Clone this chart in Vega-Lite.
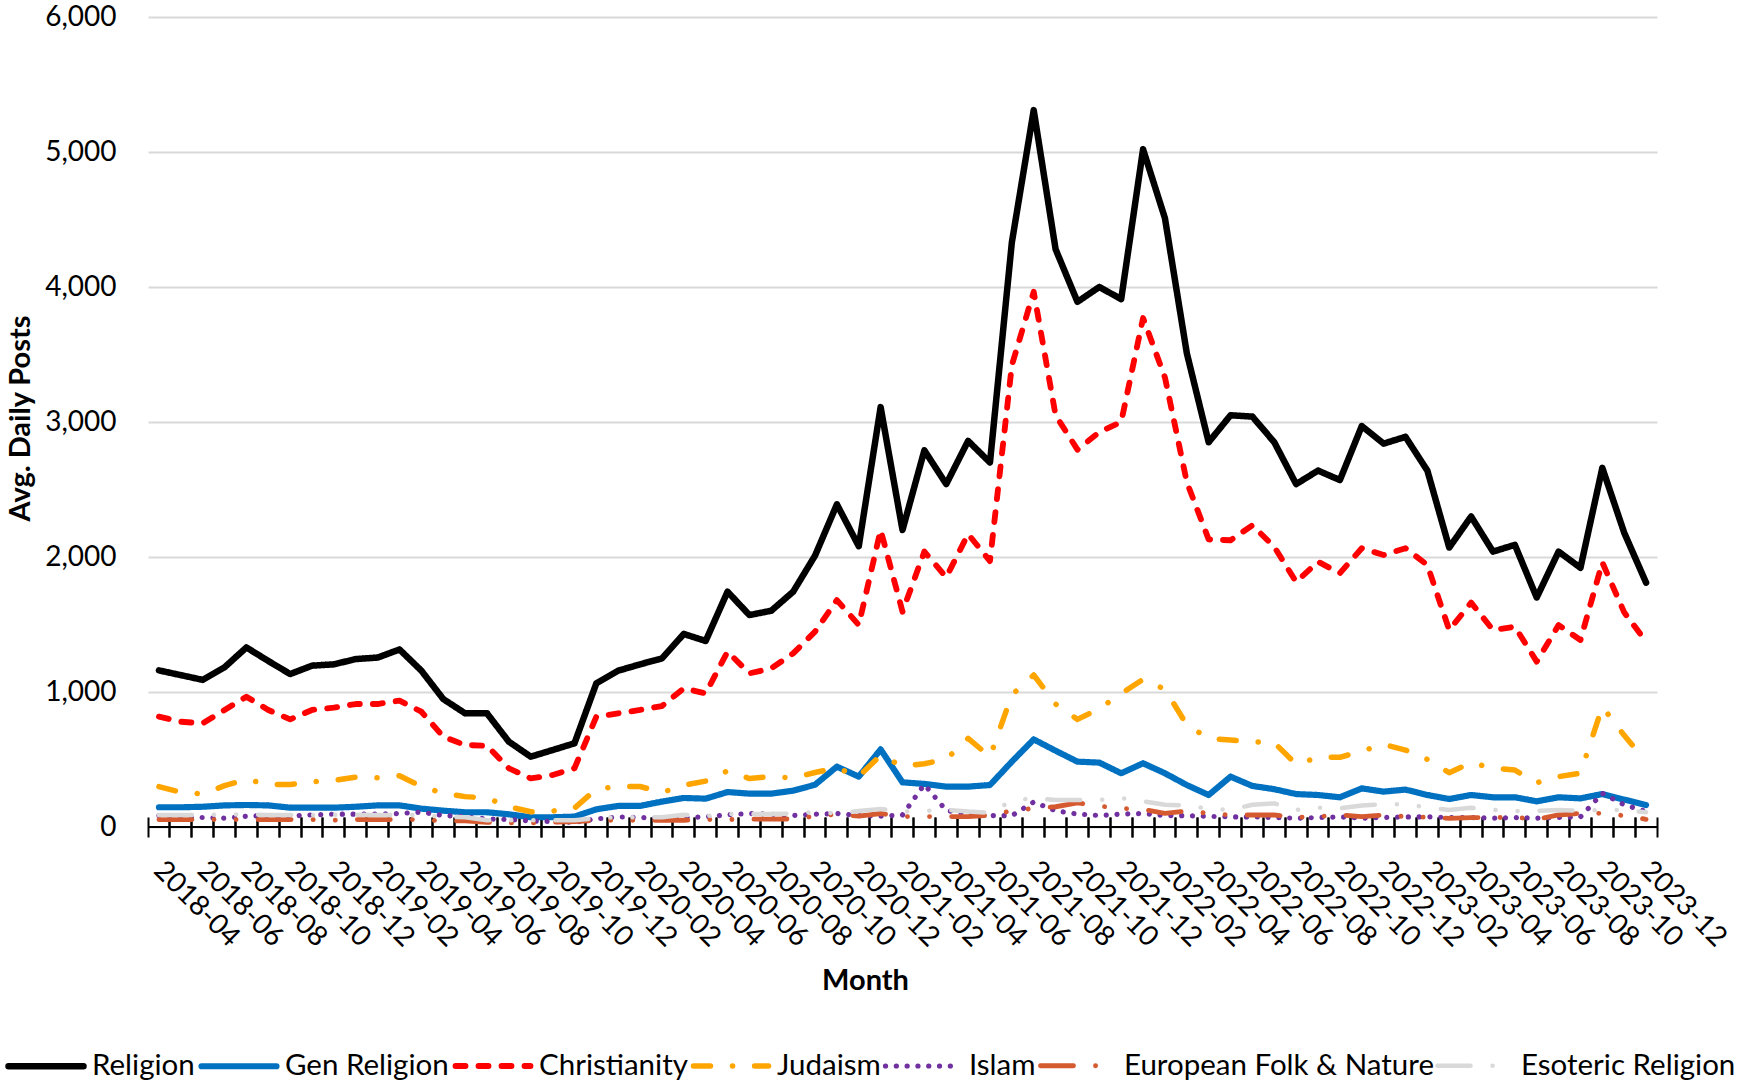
{
"$schema":"https://vega.github.io/schema/vega-lite/v6.json",
"width":1509,"height":810,"autosize":"none",
"padding":{"left":148,"top":17,"right":93,"bottom":254},
"background":"white",
"config":{"font":"Lato","view":{"stroke":null}},
"data":{"values":[
{"month":"2018-04","series":"Religion","value":1160},{"month":"2018-05","series":"Religion","value":1125},{"month":"2018-06","series":"Religion","value":1090},{"month":"2018-07","series":"Religion","value":1183},{"month":"2018-08","series":"Religion","value":1330},{"month":"2018-09","series":"Religion","value":1230},{"month":"2018-10","series":"Religion","value":1133},{"month":"2018-11","series":"Religion","value":1195},{"month":"2018-12","series":"Religion","value":1205},{"month":"2019-01","series":"Religion","value":1244},{"month":"2019-02","series":"Religion","value":1255},{"month":"2019-03","series":"Religion","value":1315},{"month":"2019-04","series":"Religion","value":1158},{"month":"2019-05","series":"Religion","value":948},{"month":"2019-06","series":"Religion","value":842},{"month":"2019-07","series":"Religion","value":842},{"month":"2019-08","series":"Religion","value":632},{"month":"2019-09","series":"Religion","value":521},{"month":"2019-10","series":"Religion","value":570},{"month":"2019-11","series":"Religion","value":620},{"month":"2019-12","series":"Religion","value":1064},{"month":"2020-01","series":"Religion","value":1158},{"month":"2020-02","series":"Religion","value":1205},{"month":"2020-03","series":"Religion","value":1249},{"month":"2020-04","series":"Religion","value":1430},{"month":"2020-05","series":"Religion","value":1378},{"month":"2020-06","series":"Religion","value":1743},{"month":"2020-07","series":"Religion","value":1570},{"month":"2020-08","series":"Religion","value":1602},{"month":"2020-09","series":"Religion","value":1743},{"month":"2020-10","series":"Religion","value":2010},{"month":"2020-11","series":"Religion","value":2390},{"month":"2020-12","series":"Religion","value":2080},{"month":"2021-01","series":"Religion","value":3110},{"month":"2021-02","series":"Religion","value":2200},{"month":"2021-03","series":"Religion","value":2790},{"month":"2021-04","series":"Religion","value":2540},{"month":"2021-05","series":"Religion","value":2860},{"month":"2021-06","series":"Religion","value":2700},{"month":"2021-07","series":"Religion","value":4330},{"month":"2021-08","series":"Religion","value":5310},{"month":"2021-09","series":"Religion","value":4280},{"month":"2021-10","series":"Religion","value":3890},{"month":"2021-11","series":"Religion","value":4000},{"month":"2021-12","series":"Religion","value":3910},{"month":"2022-01","series":"Religion","value":5020},{"month":"2022-02","series":"Religion","value":4510},{"month":"2022-03","series":"Religion","value":3510},{"month":"2022-04","series":"Religion","value":2850},{"month":"2022-05","series":"Religion","value":3050},{"month":"2022-06","series":"Religion","value":3040},{"month":"2022-07","series":"Religion","value":2850},{"month":"2022-08","series":"Religion","value":2540},{"month":"2022-09","series":"Religion","value":2640},{"month":"2022-10","series":"Religion","value":2570},{"month":"2022-11","series":"Religion","value":2970},{"month":"2022-12","series":"Religion","value":2840},{"month":"2023-01","series":"Religion","value":2890},{"month":"2023-02","series":"Religion","value":2640},{"month":"2023-03","series":"Religion","value":2070},{"month":"2023-04","series":"Religion","value":2300},{"month":"2023-05","series":"Religion","value":2040},{"month":"2023-06","series":"Religion","value":2090},{"month":"2023-07","series":"Religion","value":1700},{"month":"2023-08","series":"Religion","value":2040},{"month":"2023-09","series":"Religion","value":1920},{"month":"2023-10","series":"Religion","value":2660},{"month":"2023-11","series":"Religion","value":2180},{"month":"2023-12","series":"Religion","value":1810},
{"month":"2018-04","series":"Gen Religion","value":146},{"month":"2018-05","series":"Gen Religion","value":146},{"month":"2018-06","series":"Gen Religion","value":150},{"month":"2018-07","series":"Gen Religion","value":160},{"month":"2018-08","series":"Gen Religion","value":163},{"month":"2018-09","series":"Gen Religion","value":160},{"month":"2018-10","series":"Gen Religion","value":143},{"month":"2018-11","series":"Gen Religion","value":143},{"month":"2018-12","series":"Gen Religion","value":143},{"month":"2019-01","series":"Gen Religion","value":150},{"month":"2019-02","series":"Gen Religion","value":160},{"month":"2019-03","series":"Gen Religion","value":160},{"month":"2019-04","series":"Gen Religion","value":136},{"month":"2019-05","series":"Gen Religion","value":121},{"month":"2019-06","series":"Gen Religion","value":109},{"month":"2019-07","series":"Gen Religion","value":109},{"month":"2019-08","series":"Gen Religion","value":94},{"month":"2019-09","series":"Gen Religion","value":72},{"month":"2019-10","series":"Gen Religion","value":72},{"month":"2019-11","series":"Gen Religion","value":77},{"month":"2019-12","series":"Gen Religion","value":131},{"month":"2020-01","series":"Gen Religion","value":156},{"month":"2020-02","series":"Gen Religion","value":156},{"month":"2020-03","series":"Gen Religion","value":188},{"month":"2020-04","series":"Gen Religion","value":215},{"month":"2020-05","series":"Gen Religion","value":210},{"month":"2020-06","series":"Gen Religion","value":259},{"month":"2020-07","series":"Gen Religion","value":247},{"month":"2020-08","series":"Gen Religion","value":247},{"month":"2020-09","series":"Gen Religion","value":269},{"month":"2020-10","series":"Gen Religion","value":313},{"month":"2020-11","series":"Gen Religion","value":447},{"month":"2020-12","series":"Gen Religion","value":373},{"month":"2021-01","series":"Gen Religion","value":575},{"month":"2021-02","series":"Gen Religion","value":331},{"month":"2021-03","series":"Gen Religion","value":319},{"month":"2021-04","series":"Gen Religion","value":299},{"month":"2021-05","series":"Gen Religion","value":299},{"month":"2021-06","series":"Gen Religion","value":311},{"month":"2021-07","series":"Gen Religion","value":484},{"month":"2021-08","series":"Gen Religion","value":649},{"month":"2021-09","series":"Gen Religion","value":565},{"month":"2021-10","series":"Gen Religion","value":484},{"month":"2021-11","series":"Gen Religion","value":477},{"month":"2021-12","series":"Gen Religion","value":398},{"month":"2022-01","series":"Gen Religion","value":472},{"month":"2022-02","series":"Gen Religion","value":398},{"month":"2022-03","series":"Gen Religion","value":311},{"month":"2022-04","series":"Gen Religion","value":237},{"month":"2022-05","series":"Gen Religion","value":373},{"month":"2022-06","series":"Gen Religion","value":304},{"month":"2022-07","series":"Gen Religion","value":280},{"month":"2022-08","series":"Gen Religion","value":244},{"month":"2022-09","series":"Gen Religion","value":237},{"month":"2022-10","series":"Gen Religion","value":220},{"month":"2022-11","series":"Gen Religion","value":286},{"month":"2022-12","series":"Gen Religion","value":262},{"month":"2023-01","series":"Gen Religion","value":277},{"month":"2023-02","series":"Gen Religion","value":237},{"month":"2023-03","series":"Gen Religion","value":207},{"month":"2023-04","series":"Gen Religion","value":237},{"month":"2023-05","series":"Gen Religion","value":220},{"month":"2023-06","series":"Gen Religion","value":220},{"month":"2023-07","series":"Gen Religion","value":190},{"month":"2023-08","series":"Gen Religion","value":220},{"month":"2023-09","series":"Gen Religion","value":212},{"month":"2023-10","series":"Gen Religion","value":244},{"month":"2023-11","series":"Gen Religion","value":203},{"month":"2023-12","series":"Gen Religion","value":163},
{"month":"2018-04","series":"Christianity","value":817},{"month":"2018-05","series":"Christianity","value":780},{"month":"2018-06","series":"Christianity","value":768},{"month":"2018-07","series":"Christianity","value":867},{"month":"2018-08","series":"Christianity","value":965},{"month":"2018-09","series":"Christianity","value":867},{"month":"2018-10","series":"Christianity","value":797},{"month":"2018-11","series":"Christianity","value":867},{"month":"2018-12","series":"Christianity","value":884},{"month":"2019-01","series":"Christianity","value":911},{"month":"2019-02","series":"Christianity","value":911},{"month":"2019-03","series":"Christianity","value":936},{"month":"2019-04","series":"Christianity","value":854},{"month":"2019-05","series":"Christianity","value":669},{"month":"2019-06","series":"Christianity","value":607},{"month":"2019-07","series":"Christianity","value":602},{"month":"2019-08","series":"Christianity","value":435},{"month":"2019-09","series":"Christianity","value":360},{"month":"2019-10","series":"Christianity","value":385},{"month":"2019-11","series":"Christianity","value":435},{"month":"2019-12","series":"Christianity","value":817},{"month":"2020-01","series":"Christianity","value":842},{"month":"2020-02","series":"Christianity","value":867},{"month":"2020-03","series":"Christianity","value":896},{"month":"2020-04","series":"Christianity","value":1027},{"month":"2020-05","series":"Christianity","value":990},{"month":"2020-06","series":"Christianity","value":1299},{"month":"2020-07","series":"Christianity","value":1138},{"month":"2020-08","series":"Christianity","value":1175},{"month":"2020-09","series":"Christianity","value":1286},{"month":"2020-10","series":"Christianity","value":1447},{"month":"2020-11","series":"Christianity","value":1681},{"month":"2020-12","series":"Christianity","value":1496},{"month":"2021-01","series":"Christianity","value":2200},{"month":"2021-02","series":"Christianity","value":1595},{"month":"2021-03","series":"Christianity","value":2040},{"month":"2021-04","series":"Christianity","value":1850},{"month":"2021-05","series":"Christianity","value":2170},{"month":"2021-06","series":"Christianity","value":1970},{"month":"2021-07","series":"Christianity","value":3420},{"month":"2021-08","series":"Christianity","value":3965},{"month":"2021-09","series":"Christianity","value":3050},{"month":"2021-10","series":"Christianity","value":2795},{"month":"2021-11","series":"Christianity","value":2925},{"month":"2021-12","series":"Christianity","value":3000},{"month":"2022-01","series":"Christianity","value":3770},{"month":"2022-02","series":"Christianity","value":3330},{"month":"2022-03","series":"Christianity","value":2555},{"month":"2022-04","series":"Christianity","value":2130},{"month":"2022-05","series":"Christianity","value":2124},{"month":"2022-06","series":"Christianity","value":2235},{"month":"2022-07","series":"Christianity","value":2075},{"month":"2022-08","series":"Christianity","value":1815},{"month":"2022-09","series":"Christianity","value":1965},{"month":"2022-10","series":"Christianity","value":1880},{"month":"2022-11","series":"Christianity","value":2065},{"month":"2022-12","series":"Christianity","value":2015},{"month":"2023-01","series":"Christianity","value":2065},{"month":"2023-02","series":"Christianity","value":1940},{"month":"2023-03","series":"Christianity","value":1459},{"month":"2023-04","series":"Christianity","value":1662},{"month":"2023-05","series":"Christianity","value":1459},{"month":"2023-06","series":"Christianity","value":1484},{"month":"2023-07","series":"Christianity","value":1225},{"month":"2023-08","series":"Christianity","value":1496},{"month":"2023-09","series":"Christianity","value":1385},{"month":"2023-10","series":"Christianity","value":1960},{"month":"2023-11","series":"Christianity","value":1590},{"month":"2023-12","series":"Christianity","value":1373},
{"month":"2018-04","series":"Judaism","value":299},{"month":"2018-05","series":"Judaism","value":257},{"month":"2018-06","series":"Judaism","value":245},{"month":"2018-07","series":"Judaism","value":306},{"month":"2018-08","series":"Judaism","value":353},{"month":"2018-09","series":"Judaism","value":315},{"month":"2018-10","series":"Judaism","value":315},{"month":"2018-11","series":"Judaism","value":335},{"month":"2018-12","series":"Judaism","value":345},{"month":"2019-01","series":"Judaism","value":370},{"month":"2019-02","series":"Judaism","value":365},{"month":"2019-03","series":"Judaism","value":380},{"month":"2019-04","series":"Judaism","value":300},{"month":"2019-05","series":"Judaism","value":250},{"month":"2019-06","series":"Judaism","value":225},{"month":"2019-07","series":"Judaism","value":215},{"month":"2019-08","series":"Judaism","value":150},{"month":"2019-09","series":"Judaism","value":113},{"month":"2019-10","series":"Judaism","value":118},{"month":"2019-11","series":"Judaism","value":140},{"month":"2019-12","series":"Judaism","value":281},{"month":"2020-01","series":"Judaism","value":300},{"month":"2020-02","series":"Judaism","value":300},{"month":"2020-03","series":"Judaism","value":256},{"month":"2020-04","series":"Judaism","value":310},{"month":"2020-05","series":"Judaism","value":340},{"month":"2020-06","series":"Judaism","value":416},{"month":"2020-07","series":"Judaism","value":359},{"month":"2020-08","series":"Judaism","value":375},{"month":"2020-09","series":"Judaism","value":363},{"month":"2020-10","series":"Judaism","value":404},{"month":"2020-11","series":"Judaism","value":437},{"month":"2020-12","series":"Judaism","value":375},{"month":"2021-01","series":"Judaism","value":531},{"month":"2021-02","series":"Judaism","value":450},{"month":"2021-03","series":"Judaism","value":469},{"month":"2021-04","series":"Judaism","value":501},{"month":"2021-05","series":"Judaism","value":656},{"month":"2021-06","series":"Judaism","value":520},{"month":"2021-07","series":"Judaism","value":978},{"month":"2021-08","series":"Judaism","value":1126},{"month":"2021-09","series":"Judaism","value":911},{"month":"2021-10","series":"Judaism","value":797},{"month":"2021-11","series":"Judaism","value":877},{"month":"2021-12","series":"Judaism","value":988},{"month":"2022-01","series":"Judaism","value":1094},{"month":"2022-02","series":"Judaism","value":1020},{"month":"2022-03","series":"Judaism","value":756},{"month":"2022-04","series":"Judaism","value":656},{"month":"2022-05","series":"Judaism","value":644},{"month":"2022-06","series":"Judaism","value":632},{"month":"2022-07","series":"Judaism","value":625},{"month":"2022-08","series":"Judaism","value":464},{"month":"2022-09","series":"Judaism","value":516},{"month":"2022-10","series":"Judaism","value":516},{"month":"2022-11","series":"Judaism","value":563},{"month":"2022-12","series":"Judaism","value":612},{"month":"2023-01","series":"Judaism","value":570},{"month":"2023-02","series":"Judaism","value":501},{"month":"2023-03","series":"Judaism","value":402},{"month":"2023-04","series":"Judaism","value":477},{"month":"2023-05","series":"Judaism","value":435},{"month":"2023-06","series":"Judaism","value":422},{"month":"2023-07","series":"Judaism","value":328},{"month":"2023-08","series":"Judaism","value":373},{"month":"2023-09","series":"Judaism","value":398},{"month":"2023-10","series":"Judaism","value":891},{"month":"2023-11","series":"Judaism","value":679},{"month":"2023-12","series":"Judaism","value":484},
{"month":"2018-04","series":"Islam","value":85},{"month":"2018-05","series":"Islam","value":75},{"month":"2018-06","series":"Islam","value":70},{"month":"2018-07","series":"Islam","value":65},{"month":"2018-08","series":"Islam","value":80},{"month":"2018-09","series":"Islam","value":85},{"month":"2018-10","series":"Islam","value":80},{"month":"2018-11","series":"Islam","value":90},{"month":"2018-12","series":"Islam","value":95},{"month":"2019-01","series":"Islam","value":95},{"month":"2019-02","series":"Islam","value":95},{"month":"2019-03","series":"Islam","value":100},{"month":"2019-04","series":"Islam","value":110},{"month":"2019-05","series":"Islam","value":85},{"month":"2019-06","series":"Islam","value":75},{"month":"2019-07","series":"Islam","value":60},{"month":"2019-08","series":"Islam","value":55},{"month":"2019-09","series":"Islam","value":45},{"month":"2019-10","series":"Islam","value":40},{"month":"2019-11","series":"Islam","value":35},{"month":"2019-12","series":"Islam","value":60},{"month":"2020-01","series":"Islam","value":75},{"month":"2020-02","series":"Islam","value":70},{"month":"2020-03","series":"Islam","value":65},{"month":"2020-04","series":"Islam","value":70},{"month":"2020-05","series":"Islam","value":75},{"month":"2020-06","series":"Islam","value":90},{"month":"2020-07","series":"Islam","value":100},{"month":"2020-08","series":"Islam","value":95},{"month":"2020-09","series":"Islam","value":85},{"month":"2020-10","series":"Islam","value":95},{"month":"2020-11","series":"Islam","value":100},{"month":"2020-12","series":"Islam","value":85},{"month":"2021-01","series":"Islam","value":80},{"month":"2021-02","series":"Islam","value":89},{"month":"2021-03","series":"Islam","value":315},{"month":"2021-04","series":"Islam","value":122},{"month":"2021-05","series":"Islam","value":96},{"month":"2021-06","series":"Islam","value":85},{"month":"2021-07","series":"Islam","value":84},{"month":"2021-08","series":"Islam","value":185},{"month":"2021-09","series":"Islam","value":120},{"month":"2021-10","series":"Islam","value":96},{"month":"2021-11","series":"Islam","value":85},{"month":"2021-12","series":"Islam","value":96},{"month":"2022-01","series":"Islam","value":100},{"month":"2022-02","series":"Islam","value":85},{"month":"2022-03","series":"Islam","value":84},{"month":"2022-04","series":"Islam","value":79},{"month":"2022-05","series":"Islam","value":75},{"month":"2022-06","series":"Islam","value":75},{"month":"2022-07","series":"Islam","value":70},{"month":"2022-08","series":"Islam","value":65},{"month":"2022-09","series":"Islam","value":70},{"month":"2022-10","series":"Islam","value":75},{"month":"2022-11","series":"Islam","value":65},{"month":"2022-12","series":"Islam","value":70},{"month":"2023-01","series":"Islam","value":75},{"month":"2023-02","series":"Islam","value":75},{"month":"2023-03","series":"Islam","value":70},{"month":"2023-04","series":"Islam","value":70},{"month":"2023-05","series":"Islam","value":65},{"month":"2023-06","series":"Islam","value":70},{"month":"2023-07","series":"Islam","value":65},{"month":"2023-08","series":"Islam","value":70},{"month":"2023-09","series":"Islam","value":75},{"month":"2023-10","series":"Islam","value":250},{"month":"2023-11","series":"Islam","value":165},{"month":"2023-12","series":"Islam","value":115},
{"month":"2018-04","series":"European Folk & Nature","value":55},{"month":"2018-05","series":"European Folk & Nature","value":55},{"month":"2018-06","series":"European Folk & Nature","value":55},{"month":"2018-07","series":"European Folk & Nature","value":55},{"month":"2018-08","series":"European Folk & Nature","value":55},{"month":"2018-09","series":"European Folk & Nature","value":55},{"month":"2018-10","series":"European Folk & Nature","value":55},{"month":"2018-11","series":"European Folk & Nature","value":55},{"month":"2018-12","series":"European Folk & Nature","value":50},{"month":"2019-01","series":"European Folk & Nature","value":55},{"month":"2019-02","series":"European Folk & Nature","value":55},{"month":"2019-03","series":"European Folk & Nature","value":55},{"month":"2019-04","series":"European Folk & Nature","value":55},{"month":"2019-05","series":"European Folk & Nature","value":45},{"month":"2019-06","series":"European Folk & Nature","value":45},{"month":"2019-07","series":"European Folk & Nature","value":35},{"month":"2019-08","series":"European Folk & Nature","value":30},{"month":"2019-09","series":"European Folk & Nature","value":30},{"month":"2019-10","series":"European Folk & Nature","value":35},{"month":"2019-11","series":"European Folk & Nature","value":40},{"month":"2019-12","series":"European Folk & Nature","value":50},{"month":"2020-01","series":"European Folk & Nature","value":50},{"month":"2020-02","series":"European Folk & Nature","value":50},{"month":"2020-03","series":"European Folk & Nature","value":50},{"month":"2020-04","series":"European Folk & Nature","value":50},{"month":"2020-05","series":"European Folk & Nature","value":55},{"month":"2020-06","series":"European Folk & Nature","value":55},{"month":"2020-07","series":"European Folk & Nature","value":58},{"month":"2020-08","series":"European Folk & Nature","value":58},{"month":"2020-09","series":"European Folk & Nature","value":60},{"month":"2020-10","series":"European Folk & Nature","value":80},{"month":"2020-11","series":"European Folk & Nature","value":95},{"month":"2020-12","series":"European Folk & Nature","value":80},{"month":"2021-01","series":"European Folk & Nature","value":100},{"month":"2021-02","series":"European Folk & Nature","value":77},{"month":"2021-03","series":"European Folk & Nature","value":77},{"month":"2021-04","series":"European Folk & Nature","value":77},{"month":"2021-05","series":"European Folk & Nature","value":77},{"month":"2021-06","series":"European Folk & Nature","value":86},{"month":"2021-07","series":"European Folk & Nature","value":120},{"month":"2021-08","series":"European Folk & Nature","value":138},{"month":"2021-09","series":"European Folk & Nature","value":150},{"month":"2021-10","series":"European Folk & Nature","value":178},{"month":"2021-11","series":"European Folk & Nature","value":155},{"month":"2021-12","series":"European Folk & Nature","value":138},{"month":"2022-01","series":"European Folk & Nature","value":131},{"month":"2022-02","series":"European Folk & Nature","value":101},{"month":"2022-03","series":"European Folk & Nature","value":119},{"month":"2022-04","series":"European Folk & Nature","value":101},{"month":"2022-05","series":"European Folk & Nature","value":89},{"month":"2022-06","series":"European Folk & Nature","value":89},{"month":"2022-07","series":"European Folk & Nature","value":89},{"month":"2022-08","series":"European Folk & Nature","value":72},{"month":"2022-09","series":"European Folk & Nature","value":77},{"month":"2022-10","series":"European Folk & Nature","value":89},{"month":"2022-11","series":"European Folk & Nature","value":77},{"month":"2022-12","series":"European Folk & Nature","value":89},{"month":"2023-01","series":"European Folk & Nature","value":77},{"month":"2023-02","series":"European Folk & Nature","value":72},{"month":"2023-03","series":"European Folk & Nature","value":64},{"month":"2023-04","series":"European Folk & Nature","value":70},{"month":"2023-05","series":"European Folk & Nature","value":70},{"month":"2023-06","series":"European Folk & Nature","value":72},{"month":"2023-07","series":"European Folk & Nature","value":57},{"month":"2023-08","series":"European Folk & Nature","value":89},{"month":"2023-09","series":"European Folk & Nature","value":101},{"month":"2023-10","series":"European Folk & Nature","value":101},{"month":"2023-11","series":"European Folk & Nature","value":84},{"month":"2023-12","series":"European Folk & Nature","value":57},
{"month":"2018-04","series":"Esoteric Religion","value":89},{"month":"2018-05","series":"Esoteric Religion","value":89},{"month":"2018-06","series":"Esoteric Religion","value":89},{"month":"2018-07","series":"Esoteric Religion","value":93},{"month":"2018-08","series":"Esoteric Religion","value":93},{"month":"2018-09","series":"Esoteric Religion","value":89},{"month":"2018-10","series":"Esoteric Religion","value":89},{"month":"2018-11","series":"Esoteric Religion","value":89},{"month":"2018-12","series":"Esoteric Religion","value":90},{"month":"2019-01","series":"Esoteric Religion","value":90},{"month":"2019-02","series":"Esoteric Religion","value":89},{"month":"2019-03","series":"Esoteric Religion","value":89},{"month":"2019-04","series":"Esoteric Religion","value":89},{"month":"2019-05","series":"Esoteric Religion","value":75},{"month":"2019-06","series":"Esoteric Religion","value":72},{"month":"2019-07","series":"Esoteric Religion","value":50},{"month":"2019-08","series":"Esoteric Religion","value":50},{"month":"2019-09","series":"Esoteric Religion","value":50},{"month":"2019-10","series":"Esoteric Religion","value":50},{"month":"2019-11","series":"Esoteric Religion","value":50},{"month":"2019-12","series":"Esoteric Religion","value":65},{"month":"2020-01","series":"Esoteric Religion","value":72},{"month":"2020-02","series":"Esoteric Religion","value":72},{"month":"2020-03","series":"Esoteric Religion","value":72},{"month":"2020-04","series":"Esoteric Religion","value":90},{"month":"2020-05","series":"Esoteric Religion","value":80},{"month":"2020-06","series":"Esoteric Religion","value":96},{"month":"2020-07","series":"Esoteric Religion","value":96},{"month":"2020-08","series":"Esoteric Religion","value":96},{"month":"2020-09","series":"Esoteric Religion","value":100},{"month":"2020-10","series":"Esoteric Religion","value":110},{"month":"2020-11","series":"Esoteric Religion","value":100},{"month":"2020-12","series":"Esoteric Religion","value":118},{"month":"2021-01","series":"Esoteric Religion","value":134},{"month":"2021-02","series":"Esoteric Religion","value":114},{"month":"2021-03","series":"Esoteric Religion","value":119},{"month":"2021-04","series":"Esoteric Religion","value":126},{"month":"2021-05","series":"Esoteric Religion","value":114},{"month":"2021-06","series":"Esoteric Religion","value":106},{"month":"2021-07","series":"Esoteric Religion","value":193},{"month":"2021-08","series":"Esoteric Religion","value":215},{"month":"2021-09","series":"Esoteric Religion","value":200},{"month":"2021-10","series":"Esoteric Religion","value":200},{"month":"2021-11","series":"Esoteric Religion","value":200},{"month":"2021-12","series":"Esoteric Religion","value":215},{"month":"2022-01","series":"Esoteric Religion","value":190},{"month":"2022-02","series":"Esoteric Religion","value":165},{"month":"2022-03","series":"Esoteric Religion","value":160},{"month":"2022-04","series":"Esoteric Religion","value":135},{"month":"2022-05","series":"Esoteric Religion","value":126},{"month":"2022-06","series":"Esoteric Religion","value":165},{"month":"2022-07","series":"Esoteric Religion","value":175},{"month":"2022-08","series":"Esoteric Religion","value":126},{"month":"2022-09","series":"Esoteric Religion","value":143},{"month":"2022-10","series":"Esoteric Religion","value":138},{"month":"2022-11","series":"Esoteric Religion","value":160},{"month":"2022-12","series":"Esoteric Religion","value":168},{"month":"2023-01","series":"Esoteric Religion","value":168},{"month":"2023-02","series":"Esoteric Religion","value":146},{"month":"2023-03","series":"Esoteric Religion","value":126},{"month":"2023-04","series":"Esoteric Religion","value":143},{"month":"2023-05","series":"Esoteric Religion","value":126},{"month":"2023-06","series":"Esoteric Religion","value":119},{"month":"2023-07","series":"Esoteric Religion","value":119},{"month":"2023-08","series":"Esoteric Religion","value":126},{"month":"2023-09","series":"Esoteric Religion","value":119},{"month":"2023-10","series":"Esoteric Religion","value":126},{"month":"2023-11","series":"Esoteric Religion","value":126},{"month":"2023-12","series":"Esoteric Religion","value":109}
]},
"layer":[
{"mark":{"type":"rule","color":"black","strokeWidth":2},
 "encoding":{"y":{"datum":0,"type":"quantitative"}}},
{"mark":{"type":"line","strokeCap":"round","strokeJoin":"round"},
 "encoding":{
  "x":{"field":"month","type":"ordinal","scale":{"type":"band","paddingInner":0,"paddingOuter":0},
   "axis":{"orient":"bottom","domain":false,"grid":false,"ticks":true,"tickSize":20,"tickColor":"black","tickWidth":2,"offset":-10,"bandPosition":0,
    "labelOffset":9,"labelAngle":45,"labelAlign":"left","labelBaseline":"top","labelPadding":19,"labelFont":"Lato","labelFontSize":28,"labelColor":"black","labelOverlap":false,"labelFlush":false,"labelBound":false,
    "labelExpr":"toNumber(substring(datum.value,5,7)) % 2 == 0 ? datum.value : ''",
    "title":"Month","titleFont":"Lato","titleFontSize":29,"titleFontWeight":"bold","titleColor":"black","titleX":717,"titleY":163,"titleAlign":"center","titleBaseline":"middle","titleAngle":0}},
  "y":{"field":"value","type":"quantitative","scale":{"domain":[0,6000],"nice":false},
   "axis":{"values":[0,1000,2000,3000,4000,5000,6000],"format":",.0f","domain":false,"ticks":false,"tickSize":0,"labelPadding":32,"labelFont":"Lato","labelFontSize":28,"labelColor":"black","grid":true,"gridColor":"#D9D9D9","gridWidth":2,
    "title":"Avg. Daily Posts","titleFont":"Lato","titleFontSize":29,"titleFontWeight":"bold","titleColor":"black","titleX":-128,"titleY":401,"titleAngle":-90,"titleAlign":"center","titleBaseline":"middle"}},
  "color":{"field":"series","type":"nominal",
   "scale":{"domain":["Religion","Gen Religion","Christianity","Judaism","Islam","European Folk & Nature","Esoteric Religion"],"range":["#000000","#0070C0","#FF0000","#FFA500","#7030A0","#D55A30","#D9D9D9"]},
   "legend":{"orient":"none","legendX":-143,"legendY":1008,"direction":"horizontal","columns":7,"title":null,"symbolType":"stroke","symbolSize":5625,"symbolStrokeWidth":5,"labelFont":"Lato","labelFontSize":29.5,"labelColor":"black","labelOffset":5,"columnPadding":-6,"labelLimit":500,"symbolLimit":0,
    "encoding":{"symbols":{"strokeCap":{"value":"round"}}}}},
  "strokeDash":{"field":"series","type":"nominal",
   "scale":{"domain":["Religion","Gen Religion","Christianity","Judaism","Islam","European Folk & Nature","Esoteric Religion"],"range":[[1,0],[1,0],[10,13],[17,22,0.1,22],[0.1,10.7],[33,22,0.1,22,0.1,22],[33,22,0.1,22,0.1,22]]},
   "legend":{"orient":"none","legendX":-143,"legendY":1008,"direction":"horizontal","columns":7,"title":null,"symbolType":"stroke","symbolSize":5625,"symbolStrokeWidth":5,"labelFont":"Lato","labelFontSize":29.5,"labelColor":"black","labelOffset":5,"columnPadding":-6,"labelLimit":500,"symbolLimit":0,
    "encoding":{"symbols":{"strokeCap":{"value":"round"}}}}},
  "strokeWidth":{"field":"series","type":"nominal",
   "scale":{"domain":["Religion","Gen Religion","Christianity","Judaism","Islam","European Folk & Nature","Esoteric Religion"],"range":[6.5,4.5,5,5,4.5,5.5,6]},"legend":null}
 }},
{"mark":{"type":"point","opacity":0},
 "encoding":{
  "x":{"field":"month","type":"ordinal",
   "axis":{"orient":"bottom","domain":false,"grid":false,"labels":false,"ticks":true,"tickSize":20,"tickColor":"black","tickWidth":2,"offset":-10,"bandPosition":1,"title":null}}}}
],
"resolve":{"axis":{"x":"independent"}}
}
